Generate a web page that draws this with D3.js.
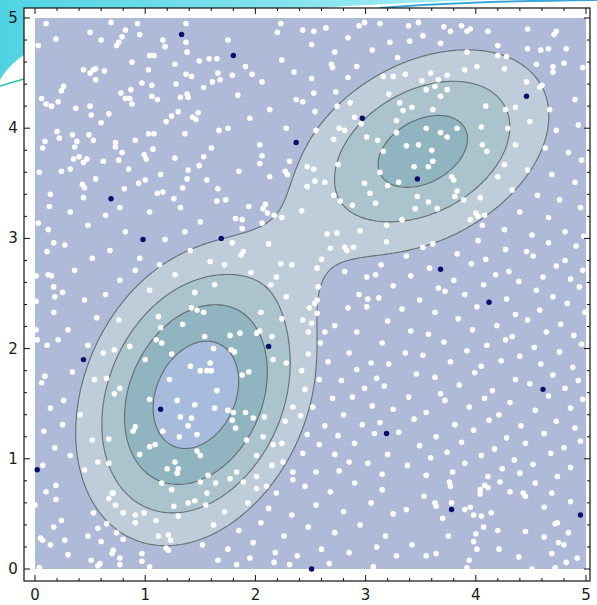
<!DOCTYPE html>
<html>
<head>
<meta charset="utf-8">
<script src="https://cdn.jsdelivr.net/npm/d3@7"></script>
<style>
  body { margin: 0; background: #ffffff; }
  svg { display: block; }
  .tick-label { font-family: "DejaVu Sans", sans-serif; font-size: 15px; fill: #1a1a1a; }
</style>
</head>
<body>
<svg id="chart" width="597" height="605"></svg>
<script>
// axis ticks
const xTicks = [0, 1, 2, 3, 4, 5];
const yTicks = [0, 1, 2, 3, 4, 5];

// the bumps of the density (centre, spread, tilt, height); the third one widens the neck
const bumpCenters = [[1.46, 1.58], [3.52, 3.79], [2.35, 2.8]];
const bumpSigmas = [[0.55, 0.69], [0.67, 0.54], [0.35, 0.35]];
const bumpRho = [0.25, 0.35, 0];
const bumpHeights = [1, 0.60, 0.04];

// contour levels and band colours (lowest band first)
const contourLevels = [0.14, 0.3, 0.5, 0.78];
const bandColors = ["#afbad9", "#bfcdda", "#aac3cd", "#90b4c0", "#a7bcdc"];

// highlighted (dark) sample points
const darkPoints = [[1.33, 4.85], [1.80, 4.66], [4.46, 4.29], [2.97, 4.09], [2.37, 3.87], [3.47, 3.54], [0.69, 3.36],
  [0.98, 2.99], [1.69, 3.00], [3.68, 2.72], [4.12, 2.42], [2.12, 2.02], [0.44, 1.90], [1.14, 1.45], [4.61, 1.63],
  [3.19, 1.23], [0.02, 0.90], [3.78, 0.54], [4.95, 0.49], [2.51, 0.00]];

// white sample points
const pointsTopLeft = [[0.10,4.95],[0.69,4.96],[0.93,4.95],[1.37,4.95],[0.50,4.87],[0.82,4.89],[0.95,4.85],[0.19,4.81],
  [0.60,4.80],[0.79,4.83],[0.76,4.78],[0.74,4.75],[1.16,4.80],[1.18,4.74],[1.37,4.78],[0.03,4.75],[1.38,4.69],[1.04,4.66],
  [1.08,4.66],[0.88,4.60],[1.27,4.58],[1.49,4.61],[1.58,4.63],[1.65,4.63],[0.44,4.53],[0.50,4.50],[0.53,4.53],[0.55,4.54],
  [0.63,4.52],[1.03,4.53],[0.55,4.44],[1.37,4.49],[1.42,4.47],[1.66,4.50],[1.68,4.44],[1.61,4.42],[0.97,4.41],[1.06,4.39],
  [1.28,4.40],[1.53,4.37],[0.26,4.38],[0.24,4.34],[0.78,4.32],[0.87,4.35],[0.82,4.27],[0.86,4.27],[0.88,4.22],[1.06,4.29],
  [1.11,4.26],[1.32,4.28],[1.38,4.31],[1.39,4.28],[0.06,4.27],[0.10,4.22],[0.15,4.20],[0.21,4.24],[0.37,4.18],[0.50,4.20],
  [0.51,4.12],[0.67,4.13],[0.60,4.05],[1.19,4.06],[1.24,4.11],[1.30,4.15],[1.43,4.10],[1.46,4.08],[1.48,4.14],[0.20,3.97],
  [0.22,3.91],[0.34,3.94],[0.38,3.88],[0.36,3.83],[0.49,3.94],[0.53,3.89],[1.03,3.95],[1.08,3.95],[1.36,3.95],[1.67,3.98],
  [0.09,3.88],[0.07,3.82],[0.73,3.87],[0.73,3.83],[0.91,3.89],[0.79,3.78],[1.07,3.81],[0.99,3.76],[1.01,3.72],[1.27,3.73],
  [1.53,3.74],[1.60,3.82],[0.35,3.72],[0.40,3.74],[0.44,3.69],[0.47,3.72],[0.62,3.70],[0.76,3.71],[0.85,3.63],[0.04,3.60],
  [0.24,3.61],[0.32,3.63],[1.14,3.58],[1.39,3.62],[1.49,3.66],[0.55,3.54],[0.43,3.49],[0.45,3.46],[0.94,3.50],[1.00,3.53],
  [0.81,3.45],[1.11,3.41],[1.16,3.42],[1.34,3.46],[1.38,3.54],[1.56,3.53],[1.66,3.45],[0.14,3.40],[0.44,3.37],[1.26,3.36],
  [1.65,3.34]];

const pointsTopMiddle = [[2.23,4.95],[2.20,4.87],[2.43,4.89],[2.53,4.88],[2.64,4.91],[2.94,4.93],[2.99,4.96],[3.13,4.95],
  [1.75,4.80],[1.91,4.56],[1.97,4.49],[1.84,4.30],[2.06,4.42],[2.24,4.62],[2.35,4.51],[2.13,4.17],[1.95,4.09],[1.75,4.00],
  [2.28,4.00],[2.04,3.85],[2.37,4.26],[1.79,4.48],[2.51,4.76],[2.72,4.69],[2.84,4.82],[3.06,4.71],[3.22,4.78],[3.29,4.64],
  [2.69,4.58],[2.70,4.55],[2.92,4.56],[3.16,4.47],[3.25,4.47],[2.51,4.45],[2.84,4.46],[2.73,4.33],[2.53,4.32],[3.21,4.31],
  [2.43,4.24],[2.86,4.23],[2.74,4.20],[2.54,4.15],[2.90,4.10],[3.31,4.23],[2.96,4.04],[2.76,4.00],[2.81,3.98],[2.55,3.98],
  [2.71,3.90],[3.01,3.92],[3.11,3.89],[3.28,4.07],[3.83,4.00],[3.74,3.92],[3.68,3.96],[3.55,4.00],[3.28,3.96],[3.16,3.79],
  [3.37,3.84],[3.48,3.85],[3.60,3.80],[3.44,3.65],[3.57,3.65],[3.61,3.70],[3.78,3.56],[3.80,3.53],[3.13,3.60],[3.20,3.48],
  [3.30,3.51],[2.47,3.65],[2.53,3.63],[2.75,3.67],[2.63,3.51],[2.54,3.52],[2.47,3.47],[2.71,3.39],[2.77,3.34],[2.88,3.30],
  [2.99,3.50],[3.04,3.41],[3.09,3.32],[2.42,3.25],[2.65,3.04],[2.74,3.05],[2.95,3.07],[3.19,3.12],[3.33,3.17],[3.47,3.38],
  [3.57,3.33],[3.45,3.27],[3.65,3.27],[3.83,3.43],[3.81,3.38],[3.89,3.35],[4.04,3.37],[4.00,3.23],[4.02,3.20],[4.08,3.21],
  [3.95,3.17],[4.06,3.12],[4.05,4.01],[4.06,3.85],[4.10,3.79],[4.20,3.56]];

const pointsTopRight = [[3.39,4.93],[3.48,4.96],[3.52,4.84],[3.40,4.79],[3.71,4.92],[3.77,4.88],[3.87,4.93],[3.92,4.88],
  [3.95,4.90],[4.11,4.88],[3.68,4.77],[4.20,4.75],[4.47,4.90],[4.71,4.85],[4.73,4.88],[3.92,4.69],[4.20,4.66],[4.28,4.65],
  [4.47,4.72],[4.59,4.71],[4.66,4.72],[4.82,4.72],[4.80,4.59],[4.55,4.58],[4.70,4.56],[4.70,4.51],[4.97,4.55],[3.36,4.49],
  [3.59,4.50],[3.74,4.48],[3.90,4.53],[4.01,4.56],[4.26,4.54],[4.46,4.42],[4.58,4.37],[4.60,4.39],[3.51,4.43],[3.55,4.35],
  [3.63,4.38],[3.74,4.35],[3.66,4.44],[3.68,4.29],[4.09,4.20],[4.27,4.17],[4.36,4.19],[4.67,4.17],[4.90,4.26],[3.34,4.16],
  [3.42,4.19],[3.61,4.17],[4.29,4.00],[4.49,4.06],[4.73,3.98],[4.93,4.03],[4.36,3.85],[4.63,3.82],[4.84,3.78],[4.96,3.71],
  [4.26,3.67],[4.47,3.62],[4.69,3.58],[4.90,3.51],[4.33,3.44],[4.56,3.39],[4.76,3.35],[4.40,3.24],[4.66,3.19],[4.95,3.28],
  [4.26,3.08],[4.51,3.03],[4.81,3.06],[4.98,3.02]];

const pointsNeck = [[2.06,3.75],[2.04,3.68],[1.85,3.61],[2.13,3.56],[2.27,3.61],[2.29,3.58],[2.31,3.70],[1.73,3.35],
  [1.94,3.29],[2.09,3.31],[2.07,3.27],[2.11,3.23],[2.17,3.21],[2.24,3.19],[1.82,3.18],[1.88,3.17],[1.88,3.09],[2.06,3.14],
  [1.79,2.96],[1.89,2.88],[1.87,2.85],[2.12,2.95],[1.72,2.76],[1.96,2.69],[2.23,2.77],[2.33,2.76],[2.19,2.65],[2.14,2.58],
  [2.28,2.47],[2.60,2.81],[2.56,2.73],[2.68,2.91],[2.81,2.92],[2.83,2.89],[2.89,2.92],[2.57,2.56],[2.81,2.70],[3.01,2.65],
  [3.09,2.67],[2.94,2.49],[3.02,2.45],[3.01,2.38],[2.84,2.37],[2.54,2.41],[2.56,2.44],[2.49,2.37],[2.56,2.32],[2.43,2.26],
  [2.92,2.15],[2.72,2.21],[2.63,2.15],[2.51,2.23],[2.48,2.15],[2.59,2.05]];

const pointsLeftBump = [[1.42,2.37],[1.47,2.35],[1.53,2.33],[2.05,2.33],[2.24,2.27],[1.12,2.29],[1.34,2.22],[1.14,2.19],
  [0.76,2.26],[1.15,2.05],[1.10,2.08],[1.54,2.11],[1.77,2.12],[1.86,2.14],[2.01,2.14],[2.04,2.16],[2.15,2.11],[2.16,1.90],
  [2.28,1.87],[1.62,2.00],[1.78,1.99],[1.81,1.97],[1.24,1.95],[0.62,1.96],[0.72,1.99],[0.86,2.02],[1.00,1.90],[1.41,1.84],
  [1.50,1.80],[1.56,1.80],[1.60,1.80],[1.59,1.87],[1.65,1.62],[1.88,1.76],[1.94,1.79],[1.22,1.72],[1.04,1.54],[0.65,1.73],
  [0.77,1.64],[0.72,1.59],[1.29,1.53],[1.45,1.49],[1.63,1.46],[1.75,1.44],[1.80,1.42],[1.91,1.42],[1.98,1.37],[2.08,1.38],
  [2.27,1.34],[2.34,1.47],[1.42,1.37],[1.32,1.38],[1.39,1.30],[1.47,1.22],[1.31,1.20],[1.16,1.25],[1.82,1.28],[1.92,1.17],
  [1.79,1.35],[0.91,1.29],[0.89,1.25],[0.95,1.04],[1.04,1.11],[1.09,1.13],[0.67,1.18],[2.07,1.20],[2.16,1.13],[2.24,1.14],
  [2.01,1.03],[2.15,0.94],[2.25,0.97],[2.34,0.88],[1.47,1.07],[1.50,1.03],[1.27,0.97],[1.30,0.91],[1.29,0.87],[1.20,0.91],
  [1.15,0.78],[0.67,0.96],[0.71,0.69],[1.57,0.85],[1.64,0.78],[1.77,0.82],[1.83,0.88],[1.89,0.79],[2.01,0.84],[2.01,0.73],
  [1.50,0.79],[1.56,0.69],[1.24,0.72],[2.10,0.75],[2.19,0.69],[2.34,0.81]];

const pointsLeftEdge = [[0.13,3.29],[0.03,3.14],[0.12,3.08],[0.17,2.96],[0.11,2.88],[0.01,2.66],[0.12,2.67],[0.15,2.66],
  [0.17,2.56],[0.18,2.47],[0.01,2.43],[0.17,2.33],[0.01,2.17],[0.02,2.08],[0.21,2.08],[0.11,2.03],[0.06,1.69],[0.09,1.75],
  [0.14,1.46],[0.08,1.25],[0.18,1.10],[0.07,0.94],[0.32,3.24],[0.48,3.12],[0.27,2.94],[0.52,2.82],[0.36,2.71],[0.25,2.51],
  [0.45,2.44],[0.56,2.28],[0.30,2.17],[0.48,2.03],[0.34,1.79],[0.54,1.72],[0.26,1.53],[0.41,1.40],[0.52,1.17],[0.32,1.03],
  [0.45,0.90],[0.25,1.31],[0.57,0.97],[0.64,3.21],[0.77,3.28],[1.04,3.24],[1.32,3.28],[1.50,3.15],[0.82,3.06],[1.18,2.99],
  [1.41,2.89],[0.68,2.89],[0.95,2.82],[1.59,2.79],[1.27,2.67],[0.77,2.62],[1.04,2.53],[1.45,2.51],[1.63,2.58],[0.64,2.49],
  [0.91,2.71],[1.13,2.76],[1.36,3.06]];

const pointsBottom = [[0.10,0.70],[0.19,0.76],[0.19,0.63],[0.00,0.58],[0.53,0.51],[0.67,0.64],[0.70,0.69],[0.73,0.58],
  [0.80,0.51],[0.91,0.49],[0.99,0.51],[0.91,0.42],[1.10,0.44],[1.12,0.30],[1.21,0.31],[1.23,0.26],[1.19,0.19],[1.21,0.17],
  [1.26,0.57],[1.39,0.60],[1.45,0.62],[1.30,0.48],[0.17,0.38],[0.24,0.44],[0.05,0.28],[0.07,0.26],[0.14,0.22],[0.27,0.26],
  [0.48,0.30],[0.57,0.37],[0.65,0.41],[0.74,0.33],[0.80,0.27],[0.60,0.25],[0.71,0.17],[0.70,0.14],[0.77,0.10],[0.77,0.04],
  [0.51,0.08],[0.59,0.05],[0.57,0.03],[0.30,0.13],[0.97,0.14],[0.97,0.07],[1.04,0.02],[0.04,0.01],
  [1.83,0.04],[2.17,0.06],[2.31,0.04],[2.67,0.05],[3.07,0.02],[1.55,0.58],[1.72,0.52],[1.93,0.60],[2.12,0.55],[2.33,0.49],
  [1.62,0.40],[1.85,0.35],[2.05,0.42],[2.26,0.30],[1.52,0.22],[1.75,0.18],[1.98,0.24],[2.18,0.15],[2.38,0.12],[1.66,0.08],
  [1.95,0.10],[2.45,0.75],[2.68,0.70],[2.90,0.78],[3.15,0.72],[2.55,0.58],[2.80,0.52],[3.05,0.60],[3.25,0.50],[2.48,0.38],
  [2.72,0.33],[2.95,0.40],[3.18,0.30],[2.60,0.18],[2.85,0.15],[3.10,0.20],[3.28,0.12],
  [3.76,0.79],[3.77,0.75],[4.04,0.72],[4.04,0.68],[4.08,0.76],[4.11,0.74],[4.22,0.79],[4.31,0.70],[4.43,0.69],[4.45,0.66],
  [4.54,0.78],[4.69,0.69],[4.86,0.61],[3.53,0.66],[3.63,0.60],[3.64,0.57],[3.78,0.60],[3.37,0.54],[3.90,0.54],[3.95,0.56],
  [3.98,0.49],[4.05,0.48],[4.14,0.51],[3.70,0.46],[4.62,0.56],[4.72,0.41],[4.74,0.42],[4.84,0.33],[4.45,0.34],[4.20,0.35],
  [4.07,0.38],[4.00,0.32],[3.98,0.25],[4.01,0.18],[3.75,0.30],[3.42,0.22],[3.55,0.12],[3.64,0.14],[3.94,0.08],[4.21,0.18],
  [4.39,0.11],[4.62,0.29],[4.75,0.24],[4.80,0.22],[4.69,0.14],[4.82,0.06],[4.92,0.10],[3.92,0.01],[4.51,0.00],[4.72,0.01]];

const pointsRightMiddle = [[3.19,2.97],[3.52,2.92],[3.61,2.95],[4.02,2.98],[4.27,2.90],[4.66,2.96],[4.91,2.93],
  [3.37,2.84],[3.83,2.86],[4.09,2.81],[4.46,2.88],[4.52,2.84],[4.81,2.80],[3.14,2.76],[3.58,2.73],[3.96,2.77],[4.30,2.70],
  [4.73,2.75],[4.97,2.71],[3.41,2.66],[3.80,2.62],[4.18,2.67],[4.39,2.61],[4.61,2.65],[4.86,2.63],[3.25,2.57],[3.66,2.55],
  [3.72,2.52],[4.07,2.58],[4.55,2.53],[4.94,2.56],[3.12,2.46],[3.49,2.44],[3.90,2.49],[4.28,2.45],[4.70,2.47],[4.83,2.41],
  [3.33,2.36],[3.63,2.33],[4.01,2.38],[4.36,2.31],[4.58,2.35],[4.99,2.33],[3.20,2.25],[3.84,2.27],[4.19,2.21],[4.47,2.26],
  [4.77,2.22],[3.41,2.16],[3.57,2.13],[3.97,2.17],[4.33,2.11],[4.64,2.15],[4.89,2.12],[3.15,2.05],[3.71,2.06],[4.10,2.03],
  [4.27,2.08],[4.53,2.01],[4.96,2.04],[3.36,1.96],[3.52,1.94],[3.92,1.98],[4.40,1.93],[4.76,1.97],[3.21,1.86],[3.77,1.88],
  [4.05,1.84],[4.23,1.89],[4.59,1.86],[4.88,1.83],[3.46,1.77],[3.63,1.74],[3.99,1.78],[4.36,1.72],[4.70,1.76],[4.93,1.71],
  [3.17,1.66],[3.85,1.67],[4.15,1.62],[4.49,1.68],[4.81,1.64],[3.39,1.56],[3.68,1.59],[3.72,1.53],[4.08,1.55],[4.31,1.51],
  [4.66,1.57],[4.97,1.54],[3.25,1.45],[3.55,1.42],[3.94,1.47],[4.21,1.40],[4.54,1.44],[4.86,1.46],[3.13,1.33],[3.44,1.36],
  [3.81,1.31],[4.12,1.35],[4.41,1.30],[4.73,1.34],[4.90,1.28],[3.30,1.24],[3.64,1.20],[3.98,1.26],[4.28,1.19],[4.62,1.23],
  [3.49,1.12],[3.87,1.15],[4.17,1.09],[4.45,1.14],[4.80,1.10],[4.95,1.16],[3.20,1.04],[3.59,1.01],[3.74,1.06],[4.05,1.03],
  [4.35,0.99],[4.68,1.05],[3.38,0.94],[3.90,0.96],[4.24,0.91],[4.52,0.95],[4.86,0.92],[3.15,0.86],[3.55,0.85],[3.79,0.88],
  [4.11,0.84],[4.40,0.87],[4.74,0.84],
  [2.48,1.95],[2.85,1.96],[2.66,1.88],[3.05,1.87],[2.42,1.80],[2.92,1.81],[2.58,1.72],[2.78,1.71],[3.10,1.73],[2.45,1.63],
  [2.99,1.64],[2.70,1.55],[2.88,1.56],[2.52,1.47],[3.06,1.48],[2.41,1.39],[2.80,1.40],[2.63,1.30],[2.97,1.31],[2.47,1.22],
  [2.75,1.21],[3.08,1.23],[2.58,1.13],[2.90,1.14],[2.43,1.05],[2.72,1.04],[2.85,0.97],[3.02,0.96],[2.55,0.88],[2.76,0.89]];

const svg = d3.select("#chart");

const x = d3.scaleLinear().domain([0, 5]).range([35, 586]);
const y = d3.scaleLinear().domain([0, 5]).range([569, 18]);

// slide background swoosh
const defs = svg.append("defs");
const grad = defs.append("linearGradient").attr("id", "swoosh").attr("x1", 0).attr("x2", 1).attr("y1", 0).attr("y2", 0);
grad.append("stop").attr("offset", 0).attr("stop-color", "#4fd3e3");
grad.append("stop").attr("offset", 1).attr("stop-color", "#a8eef5");
svg.append("path")
    .attr("d", "M0,0 L480,0 C380,4 200,10 60,40 C30,48 12,60 0,80 Z")
    .attr("fill", "url(#swoosh)");
svg.append("path")
    .attr("d", "M0,86 C20,80 40,74 60,70")
    .attr("fill", "none").attr("stroke", "#2cc0a8").attr("stroke-width", 1.5);
svg.append("path")
    .attr("d", "M380,8 C440,3 500,1 597,0")
    .attr("fill", "none").attr("stroke", "#3aa6d8").attr("stroke-width", 2);

// frame
const frame = { left: 24, top: 8, right: 590, bottom: 581 };
svg.append("rect")
    .attr("x", frame.left).attr("y", frame.top)
    .attr("width", frame.right - frame.left).attr("height", frame.bottom - frame.top)
    .attr("fill", "#ffffff");

// density on a grid
const n = 240;
const values = new Array(n * n);
for (let j = 0; j < n; j++) {
    for (let i = 0; i < n; i++) {
        const px = (i + 0.5) / n * 5;
        const py = (j + 0.5) / n * 5;
        let v = 0;
        bumpCenters.forEach((c, k) => {
            const dx = (px - c[0]) / bumpSigmas[k][0];
            const dy = (py - c[1]) / bumpSigmas[k][1];
            const r = bumpRho[k];
            const q = (dx * dx - 2 * r * dx * dy + dy * dy) / (1 - r * r);
            v += bumpHeights[k] * Math.exp(-q / 2);
        });
        values[j * n + i] = v;
    }
}

const contours = d3.contours().size([n, n]).thresholds(contourLevels)(values);
const toPixels = d3.geoTransform({
    point: function (gx, gy) { this.stream.point(x(gx / n * 5), y(gy / n * 5)); }
});
const path = d3.geoPath(toPixels);

defs.append("clipPath").attr("id", "plot-clip")
    .append("rect")
    .attr("x", x(0)).attr("y", y(5))
    .attr("width", x(5) - x(0)).attr("height", y(0) - y(5));

const plot = svg.append("g").attr("clip-path", "url(#plot-clip)");
plot.append("rect")
    .attr("x", x(0)).attr("y", y(5))
    .attr("width", x(5) - x(0)).attr("height", y(0) - y(5))
    .attr("fill", bandColors[0]);

plot.selectAll("path.band").data(contours)
    .join("path")
    .attr("class", "band")
    .attr("d", path)
    .attr("fill", (d, i) => bandColors[i + 1])
    .attr("stroke", "#56605f")
    .attr("stroke-opacity", 0.85)
    .attr("stroke-width", 1.1);

// white points
const whitePts = [].concat(pointsTopLeft, pointsTopMiddle, pointsTopRight, pointsNeck,
    pointsLeftBump, pointsLeftEdge, pointsBottom, pointsRightMiddle);
svg.append("g").selectAll("circle").data(whitePts)
    .join("circle")
    .attr("cx", d => x(d[0]))
    .attr("cy", d => y(d[1]))
    .attr("r", 2.8)
    .attr("fill", "#ffffff");

// dark points
svg.append("g").selectAll("circle").data(darkPoints)
    .join("circle")
    .attr("cx", d => x(d[0]))
    .attr("cy", d => y(d[1]))
    .attr("r", 2.7)
    .attr("fill", "#0b0b6b");

// frame border
svg.append("rect")
    .attr("x", frame.left).attr("y", frame.top)
    .attr("width", frame.right - frame.left).attr("height", frame.bottom - frame.top)
    .attr("fill", "none").attr("stroke", "#111").attr("stroke-width", 1.2);

// ticks on all four sides, pointing inward
const minor = d3.range(0, 5.001, 0.2);
const ticks = svg.append("g").attr("stroke", "#111").attr("stroke-width", 1);
minor.forEach(t => {
    const major = Math.abs(t - Math.round(t)) < 1e-6;
    const len = major ? 6 : 3;
    ticks.append("line").attr("x1", x(t)).attr("x2", x(t)).attr("y1", frame.bottom).attr("y2", frame.bottom - len);
    ticks.append("line").attr("x1", x(t)).attr("x2", x(t)).attr("y1", frame.top).attr("y2", frame.top + len);
    ticks.append("line").attr("y1", y(t)).attr("y2", y(t)).attr("x1", frame.left).attr("x2", frame.left + len);
    ticks.append("line").attr("y1", y(t)).attr("y2", y(t)).attr("x1", frame.right).attr("x2", frame.right - len);
});

svg.append("g").selectAll("text.xl").data(xTicks)
    .join("text")
    .attr("class", "tick-label")
    .attr("x", d => x(d))
    .attr("y", 600)
    .attr("text-anchor", "middle")
    .text(d => d);

svg.append("g").selectAll("text.yl").data(yTicks)
    .join("text")
    .attr("class", "tick-label")
    .attr("x", 13)
    .attr("y", d => y(d) + 5)
    .attr("text-anchor", "middle")
    .text(d => d);
</script>
</body>
</html>
